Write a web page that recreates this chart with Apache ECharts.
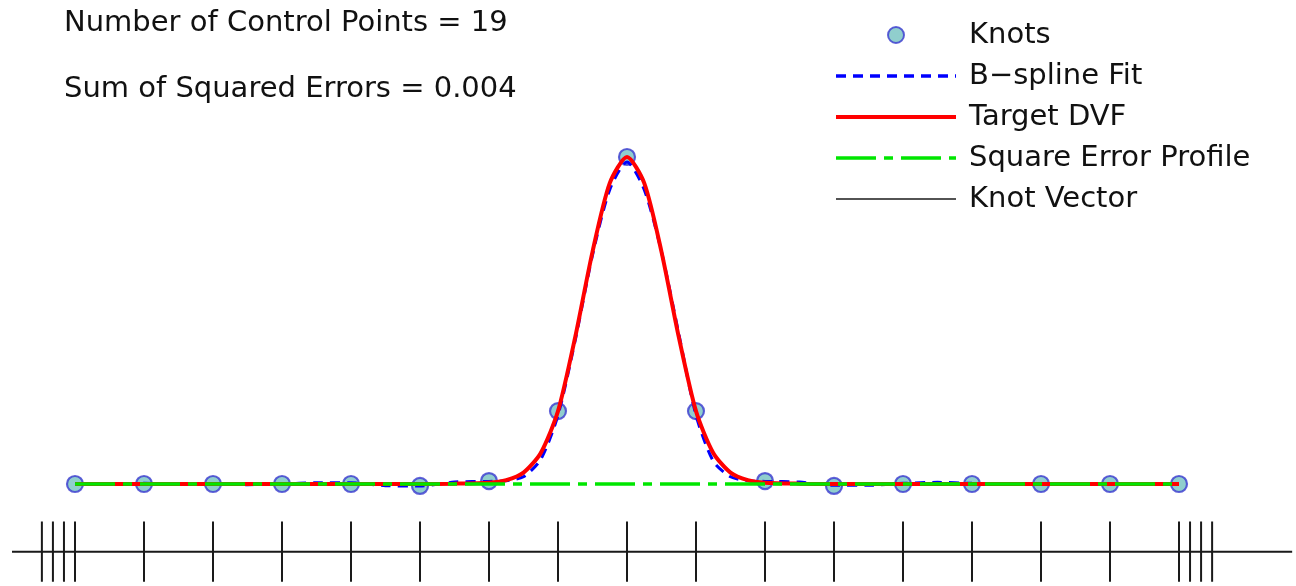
<!DOCTYPE html>
<html>
<head>
<meta charset="utf-8">
<script src="https://cdn.jsdelivr.net/npm/echarts@6/dist/echarts.min.js"></script>
<style>
  html, body { margin: 0; padding: 0; background: #fff; }
  #chart { width: 1296px; height: 586px; }
</style>
</head>
<body>
<div id="chart"></div>
<script>
// knot positions (knot index along the domain) and control values
const knotX = [0, 1, 2, 3, 4, 5, 6, 7, 8, 9, 10, 11, 12, 13, 14, 15, 16];
const knotY = [0, 0, 0, 0, 0, -0.006, 0.009, 0.223, 1.0, 0.223, 0.009, -0.006, 0, 0, 0, 0, 0];

// sample positions for the curves
const sampleX = [0, 0.5, 1, 1.5, 2, 2.5, 3, 3.5, 4, 4.5, 5, 5.5, 6, 6.25, 6.5, 6.75, 7, 7.25, 7.5, 7.75,
  8, 8.25, 8.5, 8.75, 9, 9.25, 9.5, 9.75, 10, 10.5, 11, 11.5, 12, 12.5, 13, 13.5, 14, 14.5, 15, 15.5, 16];
const bsplineFit = [0, 0.001, 0.002, 0.001, 0, -0.002, 0, 0.004, 0.004, -0.005, -0.006, 0.006, 0.008, 0.01, 0.022, 0.075,
  0.21, 0.44, 0.7, 0.9, 0.985, 0.9, 0.71, 0.46, 0.21, 0.07, 0.022, 0.01, 0.008, 0.006, -0.004, -0.004,
  0.002, 0.005, 0.002, 0.001, 0, 0.001, 0, 0, 0];
const targetDVF = [0, 0, 0, 0, 0, 0, 0, 0, 0, 0, 0, 0.001, 0.004, 0.012, 0.035, 0.095,
  0.223, 0.45, 0.71, 0.92, 1.0, 0.92, 0.71, 0.45, 0.223, 0.095, 0.035, 0.012, 0.004, 0.001, 0, 0,
  0, 0, 0, 0, 0, 0, 0, 0, 0];
const squareError = [0, 0, 0, 0, 0, 0, 0, 0, 0, 0, 0, 0, 0, 0, 0, 0,
  0, 0, 0, 0, 0, 0, 0, 0, 0, 0, 0, 0, 0, 0, 0, 0,
  0, 0, 0, 0, 0, 0, 0, 0, 0];

// clamped cubic knot vector (19 control points)
const knotVector = [0, 0, 0, 0, 1, 2, 3, 4, 5, 6, 7, 8, 9, 10, 11, 12, 13, 14, 15, 16, 16, 16, 16];

const annotations = ['Number of Control Points = 19', 'Sum of Squared Errors = 0.004'];
const legendNames = ['Knots', 'B\u2212spline Fit', 'Target DVF', 'Square Error Profile', 'Knot Vector'];
const legendLineWidths = [0, 3.5, 4, 3.5, 1.5];

const FONT = 'DejaVu Sans';
const zip = (xs, ys) => xs.map((x, i) => [x, ys[i]]);

// knot vector strip below the curve: repeated end knots are spread out so they can be seen
function knotVectorData() {
  const gap = 0.16, lineY = -0.207, tickTop = -0.115, tickBot = -0.299;
  const lo = knotVector[0], hi = knotVector[knotVector.length - 1];
  const out = [[-0.913, lineY], [17.64, lineY], [17.64, '-']];
  const nLo = knotVector.filter(v => v === lo).length;
  let iLo = 0, iHi = 0;
  knotVector.forEach(v => {
    let x = v;
    if (v === lo) { x = v + (iLo - (nLo - 1)) * gap; iLo++; }
    else if (v === hi) { x = v + iHi * gap; iHi++; }
    out.push([x, tickTop], [x, tickBot], [x, '-']);
  });
  return out;
}

const chart = echarts.init(document.getElementById('chart'));
chart.setOption({
  animation: false,
  title: annotations.map((t, i) => ({
    text: t, left: 64, top: i === 0 ? 9 : 75, padding: 0,
    textStyle: { fontFamily: FONT, fontSize: 29, fontWeight: 'normal', color: '#111' }
  })),
  legend: {
    // line entries get no marker, only the stroke
    data: legendNames.map((n, i) => i === 0 ? n : {
      name: n, itemStyle: { opacity: 0 }, lineStyle: { width: legendLineWidths[i] }
    }),
    orient: 'vertical',
    left: 834, top: 20, padding: 0,
    itemWidth: 120, itemHeight: 16, itemGap: 11,
    textStyle: { fontFamily: FONT, fontSize: 29, color: '#111', lineHeight: 30, padding: [0, 0, 0, 8] }
  },
  grid: { left: 0, right: 0, top: 0, bottom: 0 },
  xAxis: { type: 'value', min: -75 / 69, max: 1221 / 69, show: false },
  yAxis: { type: 'value', min: -102 / 327, max: 484 / 327, show: false },
  series: [
    {
      name: legendNames[0], type: 'scatter', data: zip(knotX, knotY),
      symbol: 'circle', symbolSize: 16,
      itemStyle: { color: '#74c2c0', borderColor: '#3a3ad0', borderWidth: 2.2 }
    },
    {
      name: legendNames[1], type: 'line', data: zip(sampleX, bsplineFit),
      symbol: 'none', smooth: 0.25,
      lineStyle: { color: '#0000ff', width: 3, type: [10, 7] }
    },
    {
      name: legendNames[2], type: 'line', data: zip(sampleX, targetDVF),
      symbol: 'none', smooth: 0.25,
      lineStyle: { color: '#ff0000', width: 4 }
    },
    {
      name: legendNames[3], type: 'line', data: zip(sampleX, squareError),
      symbol: 'none',
      lineStyle: { color: '#00e600', width: 3.5, type: [40, 8, 9, 8] }
    },
    {
      name: legendNames[4], type: 'line', data: knotVectorData(),
      symbol: 'none', connectNulls: false,
      lineStyle: { color: '#1a1a1a', width: 2 }
    }
  ]
});
</script>
</body>
</html>
